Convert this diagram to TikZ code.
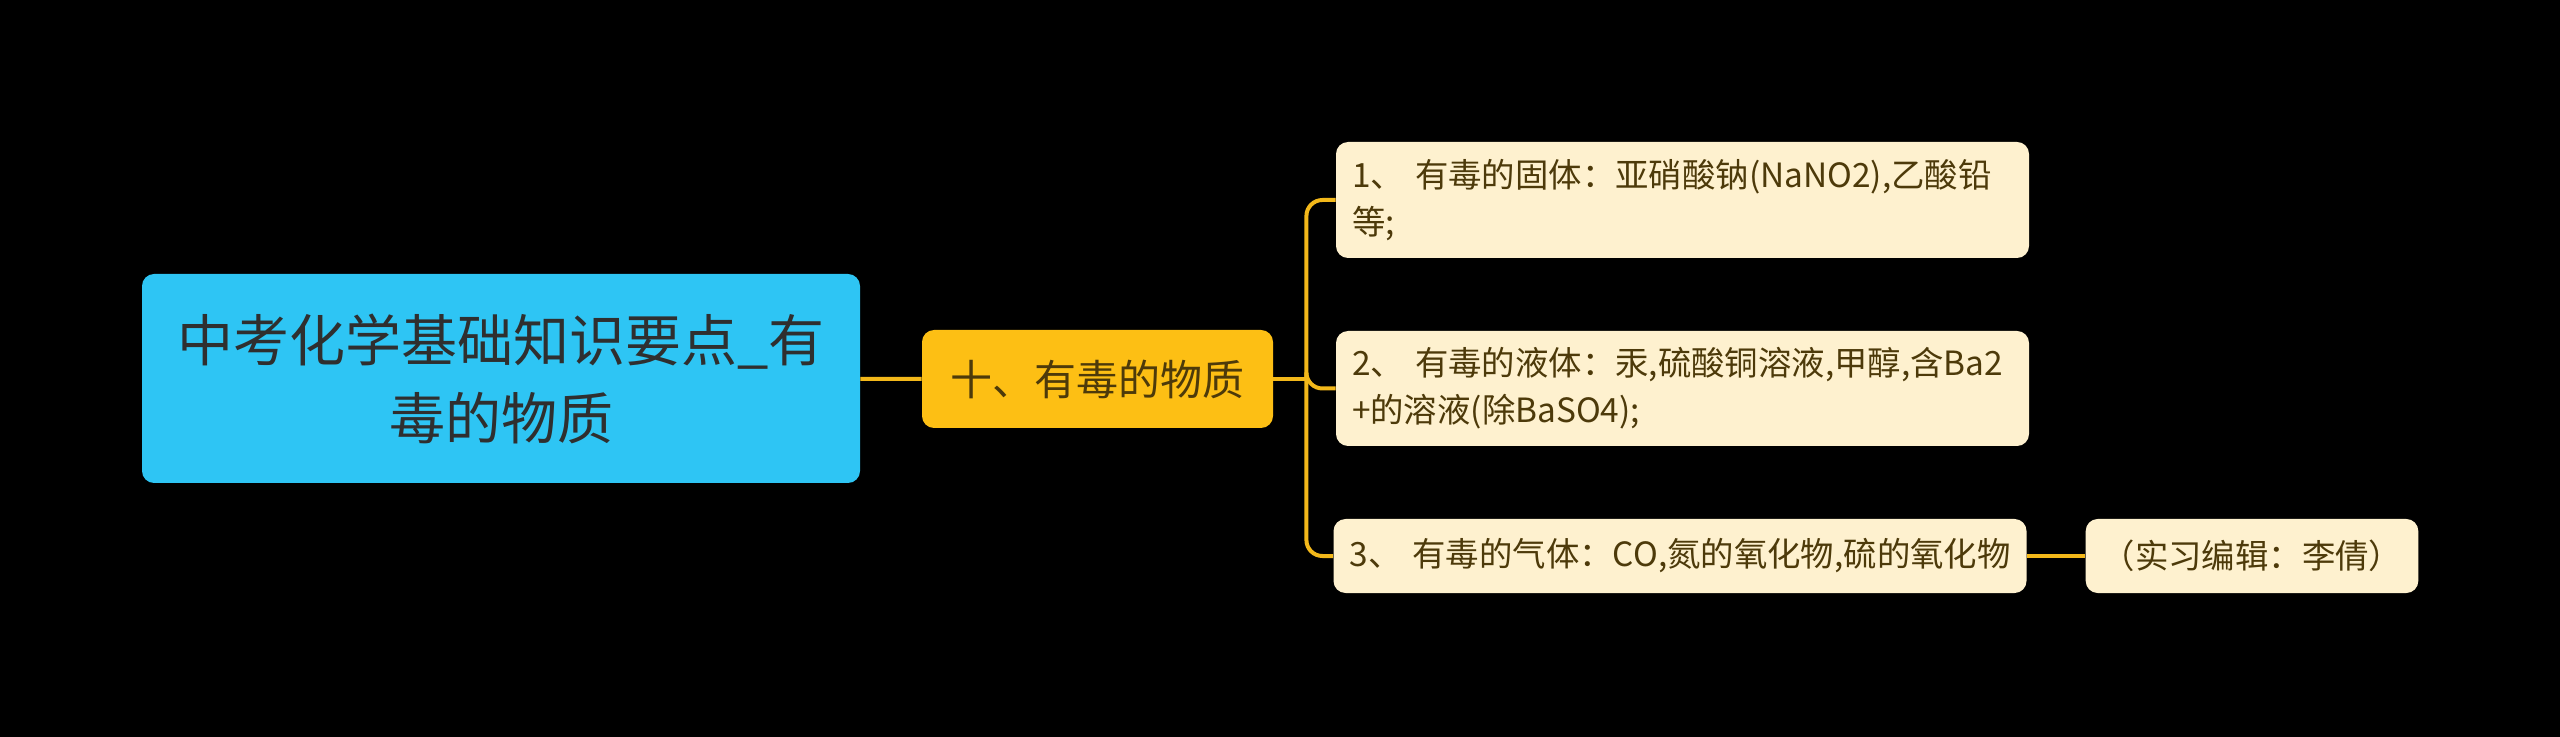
\documentclass[tikz,border=0pt]{standalone}
\usepackage{fontspec}
\setmainfont{Noto Sans CJK SC}
\usetikzlibrary{positioning}
\definecolor{mmsky}{HTML}{2EC5F4}
\definecolor{mmamber}{HTML}{FDBF14}
\definecolor{mmcream}{HTML}{FEF1CF}
\definecolor{mmink}{HTML}{2F2F2F}
\definecolor{mmbrown}{HTML}{4D3A0A}
\definecolor{mmline}{HTML}{F3B81A}
\begin{document}
\begin{tikzpicture}[x=0.5pt,y=-0.5pt,
      topic/.style={fill=mmsky,text=mmink,rounded corners=6pt,minimum width=359pt,minimum height=104.5pt,
        align=center,font=\fontsize{28}{39}\selectfont},
      branch/.style={fill=mmamber,text=mmbrown,rounded corners=6pt,minimum width=175.5pt,minimum height=49pt,
        font=\fontsize{21}{26}\selectfont},
      note/.style={fill=mmcream,text=mmbrown,rounded corners=6pt,minimum height=37pt,inner xsep=8pt,
        font=\fontsize{16.7}{23.5}\selectfont},
      leaf/.style={note,text width=330.5pt,align=left},
      link/.style={draw=mmline,line width=2pt}]
      \fill[black] (0,0) rectangle (2560,737);
      \useasboundingbox (0,0) rectangle (2560,737);
      \node[topic] (root) at (501,378.5) {中考化学基础知识要点\_有\\毒的物质};
      \node[branch] (poison) at (1097.5,379) {十、有毒的物质};
      \node[leaf,minimum height=58pt] (solid) at (1682.5,200) {1、 有毒的固体：亚硝酸钠(NaNO2),乙酸铅\\等;};
      \node[leaf,minimum height=57.5pt] (liquid) at (1682.5,388.5) {2、 有毒的液体：汞,硫酸铜溶液,甲醇,含Ba2\\+的溶液(除BaSO4);};
      \node[leaf] (gas) at (1680,556) {3、 有毒的气体：CO,氮的氧化物,硫的氧化物};
      \node[note,minimum width=164pt] (editor) at (2252,556) {（实习编辑：李倩）};
      \draw[link] (root) -- (poison);
      \draw[link] (poison.east) -- ++(33,0) coordinate (fork);
      \foreach \kid in {solid,liquid,gas}
        \draw[link,rounded corners=8pt] (fork) |- (\kid.west);
      \draw[link] (gas) -- (editor);
    \end{tikzpicture}
\end{document}
